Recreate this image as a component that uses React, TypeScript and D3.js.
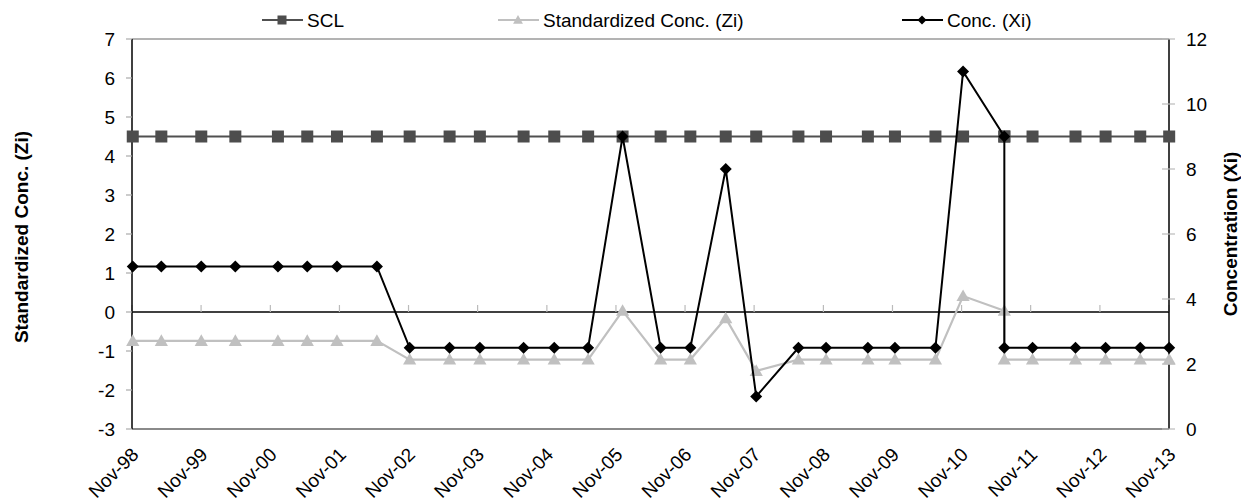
import React from "react";
import * as d3 from "d3";

const dates: string[] = [
  "1998-11-05", "1999-04-05", "1999-11-02", "2000-04-30", "2000-12-11", "2001-05-15",
  "2001-10-19", "2002-05-18", "2002-11-07", "2003-06-06", "2003-11-13", "2004-07-01",
  "2004-12-10", "2005-06-07", "2005-12-06", "2006-06-25", "2006-11-29", "2007-06-04",
  "2007-11-12", "2008-06-22", "2008-11-15", "2009-06-24", "2009-11-14", "2010-06-16",
  "2010-11-09", "2011-06-15", "2011-06-15", "2011-11-11", "2012-06-25", "2012-12-01",
  "2013-06-02", "2013-11-02",
];

const conc: number[] = [
  5, 5, 5, 5, 5, 5, 5, 5,
  2.5, 2.5, 2.5, 2.5, 2.5, 2.5,
  9, 2.5, 2.5, 8, 1,
  2.5, 2.5, 2.5, 2.5, 2.5,
  11, 9, 2.5,
  2.5, 2.5, 2.5, 2.5, 2.5,
];

const zi: number[] = [
  -0.74, -0.74, -0.74, -0.74, -0.74, -0.74, -0.74, -0.74,
  -1.22, -1.22, -1.22, -1.22, -1.22, -1.22,
  0.03, -1.22, -1.22, -0.16, -1.51,
  -1.22, -1.22, -1.22, -1.22, -1.22,
  0.41, 0.03, -1.22,
  -1.22, -1.22, -1.22, -1.22, -1.22,
];

const scl: number[] = dates.map(() => 4.5);

const leftTicks: number[] = [-3, -2, -1, 0, 1, 2, 3, 4, 5, 6, 7];
const rightTicks: number[] = [0, 2, 4, 6, 8, 10, 12];
const xTickYears: number[] = [1998, 1999, 2000, 2001, 2002, 2003, 2004, 2005, 2006, 2007, 2008, 2009, 2010, 2011, 2012, 2013];

const legendItems = [
  { label: "SCL", key: "scl" },
  { label: "Standardized Conc. (Zi)", key: "zi" },
  { label: "Conc. (Xi)", key: "conc" },
];

const W = 1241;
const H = 504;
const L = 132;
const R = 1169;
const T = 39;
const B = 429;
const FONT = "'Liberation Sans', Arial, Helvetica, sans-serif";
const FS = 19;

const parse = d3.timeParse("%Y-%m-%d");

export default function App() {
  const x = d3
    .scaleTime()
    .domain([new Date(1998, 10, 1), new Date(2013, 10, 1)])
    .range([L, R]);
  const yL = d3.scaleLinear().domain([-3, 7]).range([B, T]);
  const yR = d3.scaleLinear().domain([0, 12]).range([B, T]);
  const pts = dates.map((d) => parse(d) as Date);

  const lineL = d3
    .line<number>()
    .x((_, i) => x(pts[i]))
    .y((v) => yL(v));
  const lineR = d3
    .line<number>()
    .x((_, i) => x(pts[i]))
    .y((v) => yR(v));

  const fmt = d3.timeFormat("%b-%y");
  const xTicks = xTickYears.map((y) => new Date(y, 10, 1));

  const square = (cx: number, cy: number, s: number, fill: string, k: string) => (
    <rect key={k} x={cx - s / 2} y={cy - s / 2} width={s} height={s} fill={fill} />
  );
  const triangle = (cx: number, cy: number, s: number, fill: string, k: string) => (
    <path
      key={k}
      d={`M${cx},${cy - s * 0.55}L${cx + s * 0.55},${cy + s * 0.42}L${cx - s * 0.55},${cy + s * 0.42}Z`}
      fill={fill}
    />
  );
  const diamond = (cx: number, cy: number, s: number, fill: string, k: string) => (
    <path
      key={k}
      d={`M${cx},${cy - s / 2}L${cx + s / 2},${cy}L${cx},${cy + s / 2}L${cx - s / 2},${cy}Z`}
      fill={fill}
    />
  );

  const legendPos: Record<string, number> = { scl: 262, zi: 498, conc: 902 };
  const LY = 20;

  return (
    <svg width={W} height={H} style={{ display: "block", position: "absolute", left: 0, top: 0 }} fontFamily={FONT}>
      <rect x={0} y={0} width={W} height={H} fill="#fff" />

      {/* plot border top/bottom */}
      <line x1={L} x2={R} y1={T} y2={T} stroke="#9a9a9a" strokeWidth={1.5} />
      <line x1={L} x2={R} y1={B} y2={B} stroke="#8a8a8a" strokeWidth={2} />

      {/* zero line (category axis) */}
      <line x1={L} x2={R} y1={yL(0)} y2={yL(0)} stroke="#000" strokeWidth={1.3} />
      {xTicks.map((t, i) => (
        <line key={"xt" + i} x1={x(t)} x2={x(t)} y1={yL(0)} y2={yL(0) - 7} stroke="#bbb" strokeWidth={1.2} />
      ))}

      {/* left axis */}
      <line x1={L} x2={L} y1={T} y2={B} stroke="#000" strokeWidth={1.5} />
      {leftTicks.map((v) => (
        <g key={"l" + v}>
          <line x1={L - 6} x2={L} y1={yL(v)} y2={yL(v)} stroke="#aaa" strokeWidth={1.2} />
          <text x={115} y={yL(v)} dy="0.35em" textAnchor="end" fontSize={FS} fill="#000">
            {v}
          </text>
        </g>
      ))}

      {/* right axis */}
      <line x1={R} x2={R} y1={T} y2={B} stroke="#000" strokeWidth={1.5} />
      {rightTicks.map((v) => (
        <g key={"r" + v}>
          <line x1={R - 7} x2={R + 6} y1={yR(v)} y2={yR(v)} stroke="#bbb" strokeWidth={1.2} />
          <text x={1186} y={yR(v)} dy="0.35em" textAnchor="start" fontSize={FS} fill="#000">
            {v}
          </text>
        </g>
      ))}

      {/* x labels */}
      {xTicks.map((t, i) => (
        <text
          key={"xl" + i}
          transform={`translate(${x(t) + 3},${B + 22}) rotate(-45)`}
          dy="0.35em"
          textAnchor="end"
          fontSize={FS}
          fill="#000"
        >
          {fmt(t)}
        </text>
      ))}

      {/* axis titles */}
      <text
        transform={`translate(28,${(T + B) / 2 + 3}) rotate(-90)`}
        textAnchor="middle"
        fontSize={FS}
        fontWeight="bold"
        fill="#000"
      >
        Standardized Conc. (Zi)
      </text>
      <text
        transform={`translate(1237,${(T + B) / 2}) rotate(-90)`}
        textAnchor="middle"
        fontSize={FS}
        fontWeight="bold"
        fill="#000"
      >
        Concentration (Xi)
      </text>

      {/* SCL series */}
      <path d={lineL(scl) || ""} fill="none" stroke="#505050" strokeWidth={2} />
      {scl.map((v, i) => square(x(pts[i]), yL(v), 12, "#4d4d4d", "s" + i))}

      {/* Zi series */}
      <path d={lineL(zi) || ""} fill="none" stroke="#c0c0c0" strokeWidth={2.2} />
      {zi.map((v, i) => triangle(x(pts[i]), yL(v), 12, "#c0c0c0", "z" + i))}

      {/* Conc series */}
      <path d={lineR(conc) || ""} fill="none" stroke="#000" strokeWidth={2} />
      {conc.map((v, i) => diamond(x(pts[i]), yR(v), 12, "#000", "c" + i))}

      {/* legend */}
      {legendItems.map((it) => {
        const lx = legendPos[it.key];
        const cx = lx + 20;
        let marker;
        let stroke;
        if (it.key === "scl") {
          stroke = "#505050";
          marker = square(cx, LY, 9, "#4d4d4d", "lm");
        } else if (it.key === "zi") {
          stroke = "#c0c0c0";
          marker = triangle(cx, LY, 9, "#c0c0c0", "lm");
        } else {
          stroke = "#000";
          marker = diamond(cx, LY, 9, "#000", "lm");
        }
        return (
          <g key={it.key}>
            <line x1={lx} x2={lx + 41} y1={LY} y2={LY} stroke={stroke} strokeWidth={2} />
            {marker}
            <text x={lx + 45} y={LY} dy="0.35em" fontSize={FS} fill="#000">
              {it.label}
            </text>
          </g>
        );
      })}
    </svg>
  );
}
